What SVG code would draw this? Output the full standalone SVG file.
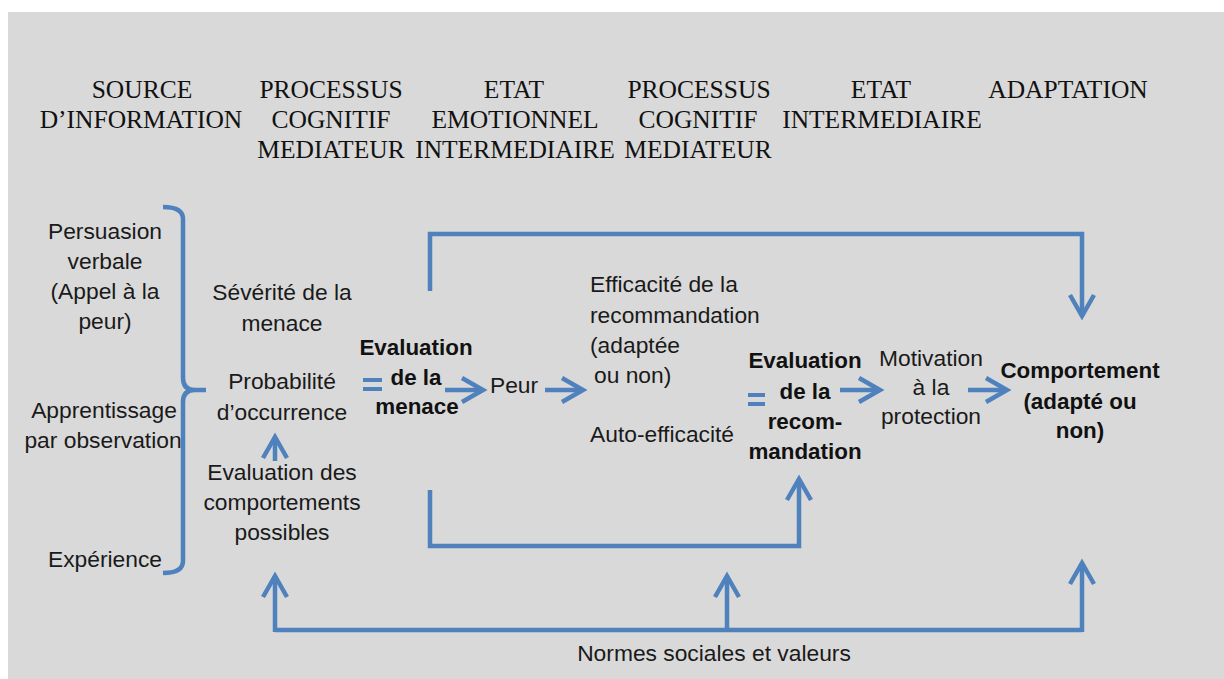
<svg xmlns="http://www.w3.org/2000/svg" width="1224" height="679" viewBox="0 0 1224 679">
  <style>
    .hdr { font-family: "Liberation Serif", "Times New Roman", serif; font-size: 25.5px; fill: #111; text-anchor: middle; }
    .t { font-family: "Liberation Sans", Arial, sans-serif; font-size: 22.8px; fill: #1a1a1a; text-anchor: middle; }
    .tl { font-family: "Liberation Sans", Arial, sans-serif; font-size: 22.8px; fill: #1a1a1a; text-anchor: start; }
    .b { font-family: "Liberation Sans", Arial, sans-serif; font-size: 22.4px; font-weight: bold; fill: #111; text-anchor: middle; }
    .ln { fill: none; stroke: #4f81bd; stroke-width: 4.5; stroke-linejoin: miter; }
    .eq { stroke: #4f81bd; stroke-width: 4; }
  </style>
  <defs>
    <marker id="ah" markerUnits="userSpaceOnUse" viewBox="-30 -16 36 32" markerWidth="36" markerHeight="32" refX="0" refY="0" orient="auto">
      <path d="M-21,-12 L0,0 L-21,12" fill="none" stroke="#4f81bd" stroke-width="4.5" stroke-linejoin="miter"/>
    </marker>
  </defs>

  <rect x="8" y="12" width="1216" height="667" fill="#d9d9d9"/>

  <g id="header">
    <text class="hdr" x="142" y="98">SOURCE</text>
    <text class="hdr" x="141" y="128">D’INFORMATION</text>
    <text class="hdr" x="331" y="98">PROCESSUS</text>
    <text class="hdr" x="331" y="128">COGNITIF</text>
    <text class="hdr" x="331" y="158">MEDIATEUR</text>
    <text class="hdr" x="514" y="98">ETAT</text>
    <text class="hdr" x="515" y="128">EMOTIONNEL</text>
    <text class="hdr" x="515" y="158">INTERMEDIAIRE</text>
    <text class="hdr" x="699" y="98">PROCESSUS</text>
    <text class="hdr" x="698" y="128">COGNITIF</text>
    <text class="hdr" x="698" y="158">MEDIATEUR</text>
    <text class="hdr" x="881" y="98">ETAT</text>
    <text class="hdr" x="882" y="128">INTERMEDIAIRE</text>
    <text class="hdr" x="1068" y="98">ADAPTATION</text>
  </g>

  <g id="sources">
    <text class="t" x="105" y="239">Persuasion</text>
    <text class="t" x="105" y="269">verbale</text>
    <text class="t" x="105" y="299">(Appel à la</text>
    <text class="t" x="105" y="329">peur)</text>
    <text class="t" x="104" y="418">Apprentissage</text>
    <text class="t" x="103" y="448">par observation</text>
    <text class="t" x="105" y="567">Expérience</text>
  </g>

  <g id="brace">
    <path class="ln" d="M163,207 Q183,207 183,219 L183,378 Q183,390 195,390 L206,390 M195,390 Q183,390 183,402 L183,561 Q183,573 163,573"/>
  </g>

  <g id="severite">
    <text class="t" x="282" y="300">Sévérité de la</text>
    <text class="t" x="282" y="331">menace</text>
  </g>
  <g id="probabilite">
    <text class="t" x="282" y="389">Probabilité</text>
    <text class="t" x="282" y="420">d’occurrence</text>
  </g>
  <g id="evaluation-comportements">
    <text class="t" x="282" y="480">Evaluation des</text>
    <text class="t" x="282" y="510">comportements</text>
    <text class="t" x="282" y="540">possibles</text>
  </g>

  <g id="eval-menace">
    <line class="eq" x1="363" y1="380" x2="382" y2="380"/>
    <line class="eq" x1="363" y1="389" x2="382" y2="389"/>
    <text class="b" x="416" y="355">Evaluation</text>
    <text class="b" x="416" y="385">de la</text>
    <text class="b" x="417" y="414">menace</text>
  </g>

  <g id="peur">
    <text class="t" x="514" y="393">Peur</text>
  </g>

  <g id="efficacite">
    <text class="tl" x="590" y="292">Efficacité de la</text>
    <text class="tl" x="590" y="323">recommandation</text>
    <text class="tl" x="590" y="353">(adaptée</text>
    <text class="tl" x="594" y="383">ou non)</text>
    <text class="tl" x="590" y="442">Auto-efficacité</text>
  </g>

  <g id="eval-recommandation">
    <line class="eq" x1="748" y1="395" x2="765" y2="395"/>
    <line class="eq" x1="748" y1="404" x2="765" y2="404"/>
    <text class="b" x="805" y="368">Evaluation</text>
    <text class="b" x="805" y="399">de la</text>
    <text class="b" x="805" y="429">recom-</text>
    <text class="b" x="805" y="459">mandation</text>
  </g>

  <g id="motivation">
    <text class="t" x="931" y="366">Motivation</text>
    <text class="t" x="931" y="395">à la</text>
    <text class="t" x="931" y="424">protection</text>
  </g>

  <g id="comportement">
    <text class="b" x="1080" y="378">Comportement</text>
    <text class="b" x="1080" y="409">(adapté ou</text>
    <text class="b" x="1080" y="438">non)</text>
  </g>

  <g id="normes">
    <text class="t" x="714" y="661">Normes sociales et valeurs</text>
  </g>

  <g id="connectors">
    <line class="ln" x1="275" y1="461" x2="275" y2="437" marker-end="url(#ah)"/>
    <line class="ln" x1="445" y1="390" x2="483" y2="390" marker-end="url(#ah)"/>
    <line class="ln" x1="545" y1="390" x2="583" y2="390" marker-end="url(#ah)"/>
    <line class="ln" x1="840" y1="390" x2="880" y2="390" marker-end="url(#ah)"/>
    <line class="ln" x1="968" y1="390" x2="1007" y2="390" marker-end="url(#ah)"/>
    <path class="ln" d="M430,291 L430,234 L1082,234 L1082,316" marker-end="url(#ah)"/>
    <path class="ln" d="M430,490 L430,546 L799,546 L799,479" marker-end="url(#ah)"/>
    <path class="ln" d="M275,630 L1082,630"/>
    <line class="ln" x1="275" y1="632" x2="275" y2="576" marker-end="url(#ah)"/>
    <line class="ln" x1="727" y1="630" x2="727" y2="576" marker-end="url(#ah)"/>
    <line class="ln" x1="1082" y1="632" x2="1082" y2="563" marker-end="url(#ah)"/>
  </g>
</svg>
